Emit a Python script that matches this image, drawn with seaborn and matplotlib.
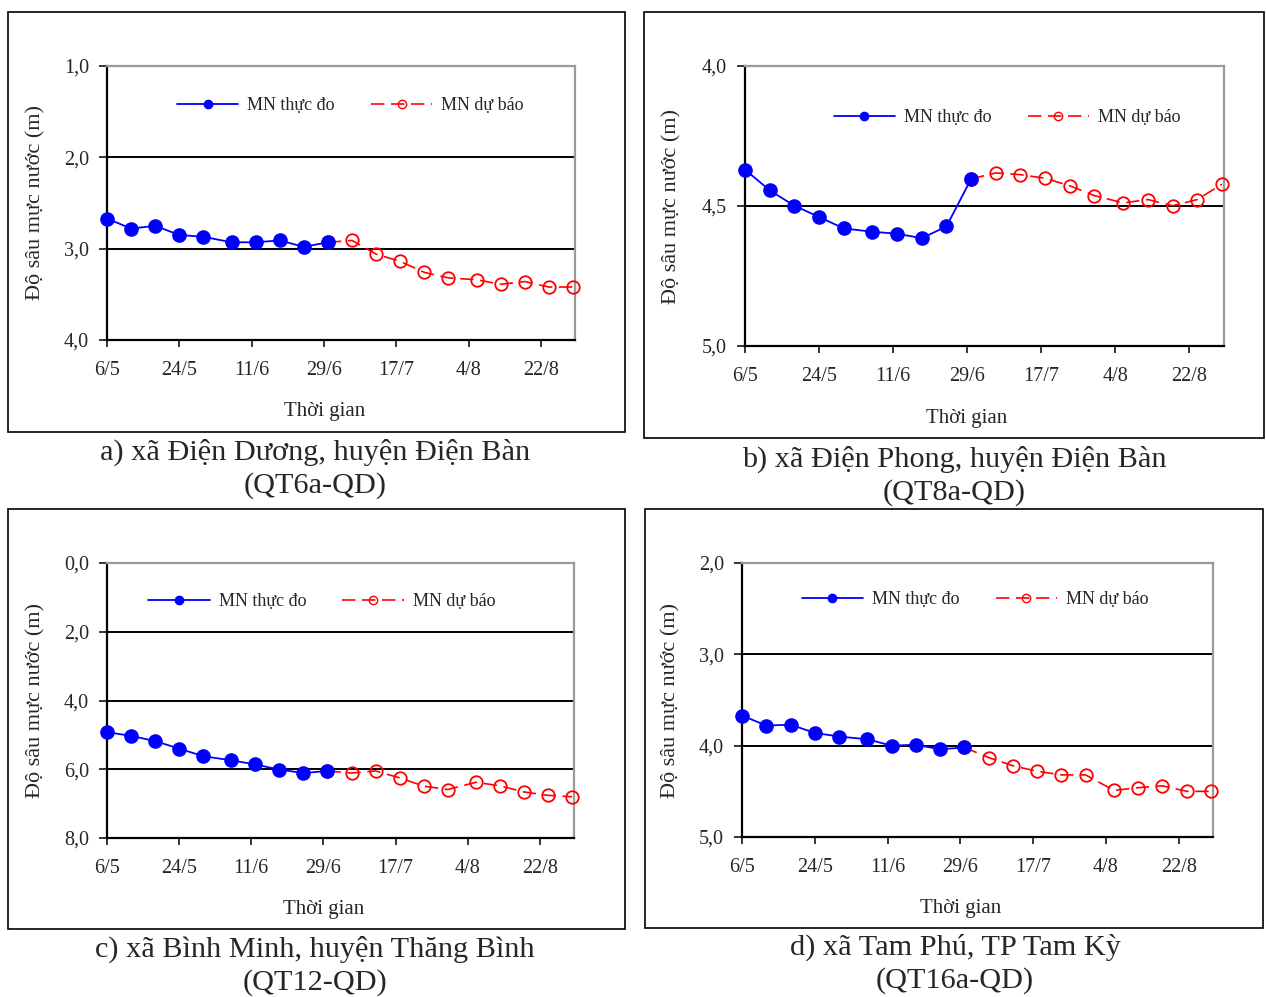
import pandas as pd
import seaborn as sns
import matplotlib.pyplot as plt
from matplotlib.lines import Line2D
from matplotlib.patches import Rectangle

sns.set_style("white")
plt.rcParams['font.family'] = ['Liberation Serif', 'DejaVu Serif']

# dates of observations / forecasts (year is arbitrary)
obs_dates = ['2021-05-06', '2021-05-12', '2021-05-18', '2021-05-24', '2021-05-30',
             '2021-06-06', '2021-06-12', '2021-06-18', '2021-06-24', '2021-06-30']
fc_dates = ['2021-06-30', '2021-07-06', '2021-07-12', '2021-07-18', '2021-07-24', '2021-07-30',
            '2021-08-06', '2021-08-12', '2021-08-18', '2021-08-24', '2021-08-30']
tick_dates = ['2021-05-06', '2021-05-24', '2021-06-11', '2021-06-29',
              '2021-07-17', '2021-08-04', '2021-08-22']
tick_labels = ['6/5', '24/5', '11/6', '29/6', '17/7', '4/8', '22/8']

# a) QT6a-QD
obs_a = [2.67, 2.78, 2.75, 2.85, 2.87, 2.93, 2.93, 2.91, 2.98, 2.93]
fc_a = [2.93, 2.91, 3.06, 3.14, 3.26, 3.32, 3.34, 3.39, 3.36, 3.42, 3.42]
yticks_a = [1.0, 2.0, 3.0, 4.0]
# b) QT8a-QD
obs_b = [4.37, 4.444, 4.499, 4.539, 4.58, 4.592, 4.599, 4.615, 4.573, 4.403]
fc_b = [4.403, 4.382, 4.388, 4.401, 4.428, 4.463, 4.489, 4.477, 4.499, 4.477, 4.422]
yticks_b = [4.0, 4.5, 5.0]
# c) QT12-QD
obs_c = [4.92, 5.03, 5.18, 5.40, 5.62, 5.74, 5.86, 6.01, 6.11, 6.05]
fc_c = [6.05, 6.11, 6.05, 6.25, 6.49, 6.59, 6.38, 6.48, 6.66, 6.76, 6.80]
yticks_c = [0.0, 2.0, 4.0, 6.0, 8.0]
# d) QT16a-QD
obs_d = [3.67, 3.78, 3.77, 3.86, 3.90, 3.93, 4.00, 3.99, 4.04, 4.02]
fc_d = [4.02, 4.13, 4.22, 4.28, 4.32, 4.32, 4.49, 4.46, 4.44, 4.50, 4.50]
yticks_d = [2.0, 3.0, 4.0, 5.0]

captions = [
    ("a) xã Điện Dương, huyện Điện Bàn", "(QT6a-QD)"),
    ("b) xã Điện Phong, huyện Điện Bàn", "(QT8a-QD)"),
    ("c) xã Bình Minh, huyện Thăng Bình", "(QT12-QD)"),
    ("d) xã Tam Phú, TP Tam Kỳ", "(QT16a-QD)"),
]
obs_label = "MN thực đo"
fc_label = "MN dự báo"
ylabel = "Độ sâu mực nước (m)"
xlabel = "Thời gian"

W, H = 1266, 997
fig = plt.figure(figsize=(W / 100, H / 100), dpi=100)


def fx(px):
    return px / W


def fy(py):
    return 1 - py / H


# pixel layout: axes box (l, t, r, b), outer frame (l, t, r, b), caption centre, legend anchor
panels = [
    dict(obs=obs_a, fc=fc_a, yt=yticks_a, ax=(107, 66, 575, 340), box=(8, 12, 625, 432),
         cap=(315, 452), leg=(0.52, 0.855), xl=0.464),
    dict(obs=obs_b, fc=fc_b, yt=yticks_b, ax=(745, 66, 1224, 346), box=(644, 12, 1264, 438),
         cap=(954, 459), leg=(0.547, 0.815), xl=0.463),
    dict(obs=obs_c, fc=fc_c, yt=yticks_c, ax=(107, 563, 574, 838), box=(8, 509, 625, 929),
         cap=(315, 949), leg=(0.46, 0.86), xl=0.463),
    dict(obs=obs_d, fc=fc_d, yt=yticks_d, ax=(742, 563, 1213, 837), box=(645, 509, 1263, 928),
         cap=(955, 947), leg=(0.495, 0.866), xl=0.465),
]

for p, (line1, line2) in zip(panels, captions):
    l, t, r, b = p['ax']
    ax = fig.add_axes([fx(l), fy(b), fx(r - l), (b - t) / H])

    bl, bt, br, bb = p['box']
    fig.patches.append(Rectangle((fx(bl), fy(bb)), fx(br - bl), (bb - bt) / H,
                                 transform=fig.transFigure, fill=False,
                                 edgecolor='black', linewidth=1.2, zorder=0))

    df_obs = pd.DataFrame({'date': pd.to_datetime(obs_dates), 'depth': p['obs']})
    df_fc = pd.DataFrame({'date': pd.to_datetime(fc_dates), 'depth': p['fc']})

    for v in p['yt'][1:-1]:
        ax.axhline(v, color='black', lw=1.4, zorder=1)

    sns.lineplot(data=df_fc, x='date', y='depth', ax=ax, color='red', lw=1.2,
                 linestyle=(0, (8, 4)), marker='o', markersize=9,
                 markerfacecolor='none', markeredgecolor='red', markeredgewidth=1.3,
                 legend=False, zorder=3, clip_on=False)
    sns.lineplot(data=df_obs, x='date', y='depth', ax=ax, color='blue', lw=1.3,
                 marker='o', markersize=9.5, markerfacecolor='blue',
                 markeredgecolor='blue', markeredgewidth=1,
                 legend=False, zorder=4, clip_on=False)

    ax.set_xlim(pd.Timestamp('2021-05-06'), pd.Timestamp('2021-08-30 12:00'))
    ax.set_xticks(pd.to_datetime(tick_dates))
    ax.set_xticklabels(tick_labels)
    ax.set_ylim(p['yt'][-1], p['yt'][0])
    ax.set_yticks(p['yt'])
    ax.set_yticklabels([f"{v:.1f}".replace('.', ',') for v in p['yt']])

    ax.tick_params(axis='x', direction='out', length=5, width=1.3, pad=10,
                   labelsize=14.5, bottom=True)
    ax.tick_params(axis='y', direction='out', length=6, width=1.3, pad=7,
                   labelsize=14.5, left=True)

    for side in ['left', 'bottom']:
        ax.spines[side].set_color('black')
        ax.spines[side].set_linewidth(1.6)
    for side in ['top', 'right']:
        ax.spines[side].set_color('#9a9a9a')
        ax.spines[side].set_linewidth(1.6)

    ax.set_xlabel(xlabel, fontsize=15)
    ax.set_ylabel(ylabel, fontsize=16)
    ax.xaxis.label.set_va('center')
    ax.yaxis.label.set_va('center')
    ax.xaxis.set_label_coords(p['xl'], -0.26)
    ax.yaxis.set_label_coords(-0.152, 0.5)

    handles = [
        Line2D([], [], color='blue', lw=1.3, marker='o', markersize=6,
               markerfacecolor='blue', markeredgecolor='blue'),
        Line2D([], [], color='red', lw=1.2, linestyle=(0, (8, 4)), marker='o',
               markersize=6, markerfacecolor='none', markeredgecolor='red'),
    ]
    ax.legend(handles, [obs_label, fc_label], loc='center', bbox_to_anchor=p['leg'],
              ncol=2, frameon=False, fontsize=13, handlelength=3.4,
              handletextpad=0.5, columnspacing=2.0)

    cx, cy = p['cap']
    fig.text(fx(cx), fy(cy), line1, ha='center', va='center', fontsize=21.8)
    fig.text(fx(cx), fy(cy + 34), line2, ha='center', va='center', fontsize=21.8)

plt.savefig("out.png", dpi=100, facecolor='white')
